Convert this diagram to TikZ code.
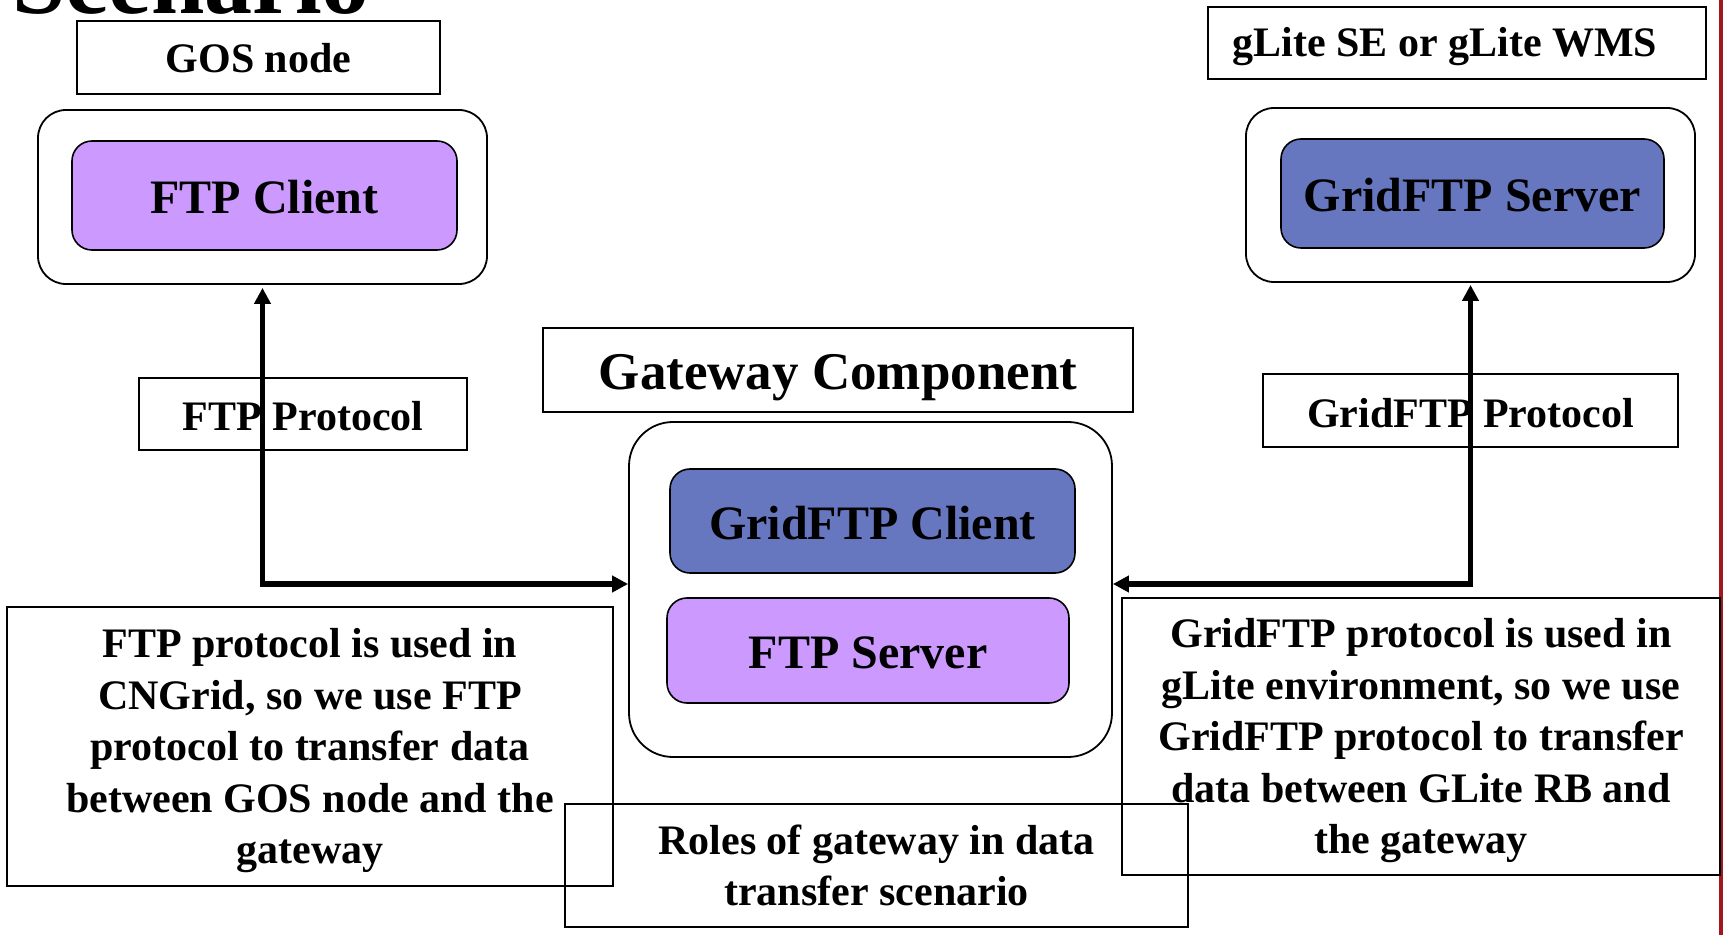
\documentclass[tikz,border=0pt]{standalone}
\usepackage{fontspec}
\setmainfont{Liberation Serif}
\usepackage{tikz}
\usetikzlibrary{arrows.meta,calc}
\definecolor{lilac}{HTML}{CC99FF}
\definecolor{slate}{HTML}{6677BF}
\definecolor{edgered}{HTML}{A3161E}
\tikzset{
  tagbox/.style={draw=black, line width=1pt, inner sep=0pt, align=center,
    font=\fontsize{21}{25.7}\selectfont\bfseries},
  hostbox/.style={draw=black, line width=0.9pt, rounded corners=14pt, inner sep=0pt},
  svc/.style={draw=black, line width=0.8pt, rounded corners=10pt, inner sep=0pt,
    text height=18.4pt, text depth=0pt,
    font=\fontsize{24}{28}\selectfont\bfseries},
  notebox/.style={draw=black, line width=0.8pt, inner sep=0pt, align=center,
    font=\fontsize{21}{25.7}\selectfont\bfseries},
  link/.style={draw=black, line width=2.6pt,
    {Triangle[length=8pt,width=8pt]}-{Triangle[length=8pt,width=8pt]}},
}

\begin{document}
\begin{tikzpicture}[x=0.5pt,y=-0.5pt]
  \useasboundingbox (0,0) rectangle (1725,935);
  \clip (0,0) rectangle (1725,935);
  % slide title, cut off at the top
  \node[anchor=base west, inner sep=0pt, font=\fontsize{48}{56}\selectfont\bfseries] (title) at (12,14) {Scenario};
  \draw[edgered, line width=2pt] (1721,0) -- (1721,935);

  % left: GOS node
  \node[tagbox, text height=15pt, text depth=0pt, minimum width=181.5pt, minimum height=36.5pt] (gos) at (258.5,57.5) {GOS node};
  \node[hostbox, minimum width=224.5pt, minimum height=87pt] (cliHost) at (262.5,197) {};
  \node[svc, fill=lilac, minimum width=192.5pt, minimum height=54.5pt] (ftpCli) at (264.5,195.5) {FTP Client};

  % right: gLite side
  \node[tagbox, text height=17pt, text depth=3pt, minimum width=249pt, minimum height=36pt] (glite) at (1457,43) {\hspace*{-12pt}gLite SE or gLite WMS};
  \node[hostbox, minimum width=224.5pt, minimum height=87pt] (seHost) at (1470.5,195) {};
  \node[svc, fill=slate, minimum width=191.5pt, minimum height=54.5pt] (gridSrv) at (1472.5,193.5) {GridFTP Server};

  % middle: gateway
  \node[tagbox, font=\fontsize{26.5}{30}\selectfont\bfseries, text height=22pt, text depth=2.5pt, minimum width=295pt, minimum height=42pt] (gwTag) at (838,370) {Gateway Component};
  \node[hostbox, rounded corners=22pt, minimum width=241.5pt, minimum height=167.5pt] (gw) at (870.5,589.5) {};
  \node[svc, fill=slate, minimum width=202.5pt, minimum height=52pt] (gridCli) at (872.5,521) {GridFTP Client};
  \node[svc, fill=lilac, minimum width=201pt, minimum height=52.5pt] (ftpSrv) at (868,650.5) {FTP Server};

  % protocol labels
  \node[tagbox, text height=17pt, text depth=0pt, minimum width=164pt, minimum height=36pt] (ftpProto) at (303,414) {FTP Protocol};
  \node[tagbox, text height=17.5pt, text depth=0pt, minimum width=207.5pt, minimum height=36.5pt] (gridProto) at (1470.5,410.5) {GridFTP Protocol};

  % notes
  \node[notebox, text height=121.5pt, text depth=4.5pt, minimum width=303pt, minimum height=139.5pt] (noteL) at (310,746.5)
    {FTP protocol is used in\\CNGrid, so we use FTP\\protocol to transfer data\\between GOS node and the\\gateway};
  \node[notebox, text height=121.5pt, text depth=4.5pt, minimum width=299pt, minimum height=138.5pt] (noteR) at (1421,736.5)
    {GridFTP protocol is used in\\gLite environment, so we use\\GridFTP protocol to transfer\\data between GLite RB and\\the gateway};
  \node[notebox, minimum width=311.5pt, minimum height=61.5pt] (roles) at (876.5,865.5)
    {Roles of gateway in data\\transfer scenario};

  % connectors
  \coordinate (gwL) at ([yshift=2.75pt]gw.west);
  \coordinate (gwR) at ([yshift=2.75pt]gw.east);
  \draw[link] ([yshift=-1.5pt]cliHost.south) -- (cliHost.south |- gwL) -- (gwL);
  \draw[link] ([yshift=-1pt]seHost.south) -- (seHost.south |- gwR) -- (gwR);
\end{tikzpicture}
\end{document}
